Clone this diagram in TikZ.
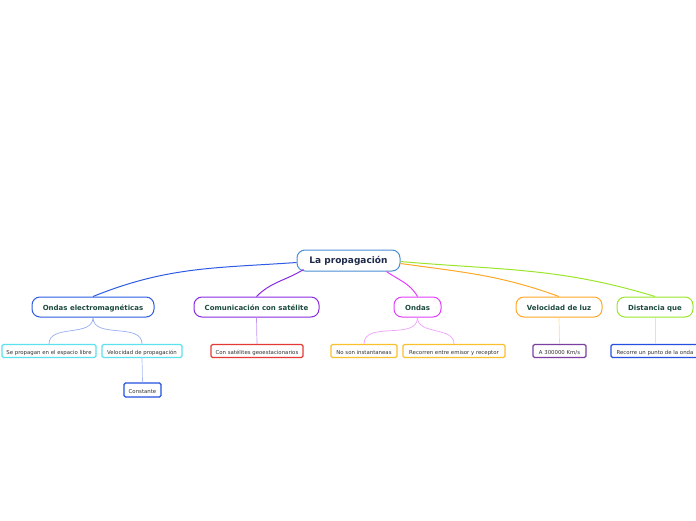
\documentclass[tikz,border=0pt]{standalone}
\usepackage{fontspec}
\setmainfont{DejaVu Sans}
\definecolor{rootc}{HTML}{4A8FD4}
\definecolor{navy}{HTML}{1E2A4A}
\definecolor{dkgreen}{HTML}{1D4A3E}
\definecolor{txtgray}{HTML}{333333}
\definecolor{cblue}{HTML}{2D5BE3}
\definecolor{cpurple}{HTML}{8A2BE2}
\definecolor{cmag}{HTML}{E040FB}
\definecolor{corange}{HTML}{FFA726}
\definecolor{cgreen}{HTML}{9BE52A}
\definecolor{ccyan}{HTML}{5CE1F0}
\definecolor{cred}{HTML}{E53935}
\definecolor{cyel}{HTML}{FBC02D}
\definecolor{cviolet}{HTML}{7B3FA0}
\definecolor{cdblue}{HTML}{2350E0}
\begin{document}
\begin{tikzpicture}[x=1pt,y=-1pt,
  every node/.style={text height=0.73em, text depth=0.05em},
  rootbox/.style={draw=rootc, line width=1pt, rounded corners=8pt, fill=white,
    minimum width=103pt, minimum height=21pt, inner sep=0pt,
    font=\fontsize{9}{10}\selectfont\bfseries, text=navy},
  lone/.style={draw=#1, line width=1pt, rounded corners=8pt, fill=white,
    minimum height=20pt, inner sep=0pt,
    font=\fontsize{7}{8}\selectfont\bfseries, text=dkgreen},
  ltwo/.style={draw=#1, line width=1.2pt, rounded corners=1.5pt, fill=white,
    minimum height=13pt, inner sep=0pt,
    font=\fontsize{5.4}{6}\selectfont, text=txtgray},
  link/.style={draw=#1, line width=1pt},
  sublink/.style={draw=#1, line width=0.7pt}
]
\useasboundingbox (0,0) rectangle (696,520);
\clip (0,0) rectangle (696,520);
% nodes
\node[rootbox] (root) at (348.5,260.5) {La propagación};
\node[lone=cblue, minimum width=122pt] (oe) at (93,307) {Ondas electromagnéticas};
\node[lone=cpurple, minimum width=125pt] (com) at (256.5,307) {Comunicación con satélite};
\node[lone=cmag, minimum width=47pt] (ond) at (417.5,307) {Ondas};
\node[lone=corange, minimum width=86pt] (vel) at (559,307) {Velocidad de luz};
\node[lone=cgreen, minimum width=76pt] (dist) at (655,307) {Distancia que};
\node[ltwo=ccyan, minimum width=94pt] (sp) at (49,351) {Se propagan en el espacio libre};
\node[ltwo=ccyan, minimum width=80pt] (vp) at (142,351) {Velocidad de propagación};
\node[ltwo=cred, minimum width=92pt] (cs) at (257,351) {Con satélites geoestacionarios};
\node[ltwo=cyel, minimum width=66pt] (ns) at (364,351) {No son instantaneas};
\node[ltwo=cyel, minimum width=102pt] (re) at (454,351) {Recorren entre emisor y receptor};
\node[ltwo=cviolet, minimum width=53pt] (a3) at (559.5,351) {A 300000 Km/s};
\node[ltwo=cdblue, minimum width=88pt] (rp) at (655,351) {Recorre un punto de la onda};
\node[ltwo=cdblue, minimum width=37pt, minimum height=14pt] (cons) at (142.5,390) {Constante};
% connectors
\path[link=cblue] ([yshift=-2pt]root.west) to[out=184,in=22] (oe.north);
\path[link=cpurple] ([xshift=7pt,yshift=2pt]root.south west) to[out=212,in=45] (com.north);
\path[link=cmag] ([xshift=-14pt]root.south east) to[out=-35,in=120] (ond.north);
\path[link=corange] ([yshift=-3pt]root.east) to[out=-8,in=160] (vel.north);
\path[link=cgreen] ([yshift=-1pt]root.east) to[out=-5,in=163] (dist.north);
\path[sublink=cblue!50] (oe.south) to[out=-90,in=90] (sp.north);
\path[sublink=cblue!50] (oe.south) to[out=-90,in=90] (vp.north);
\path[sublink=cpurple!50] (com.south) -- (cs.north);
\path[sublink=cmag!50] (ond.south) to[out=-90,in=90] (ns.north);
\path[sublink=cmag!50] (ond.south) to[out=-90,in=90] (re.north);
\path[sublink=corange!45] (vel.south) -- (a3.north);
\path[sublink=cgreen!45] (dist.south) -- (rp.north);
\path[sublink=cblue!40] (vp.south) -- (cons.north);
\end{tikzpicture}
\end{document}
